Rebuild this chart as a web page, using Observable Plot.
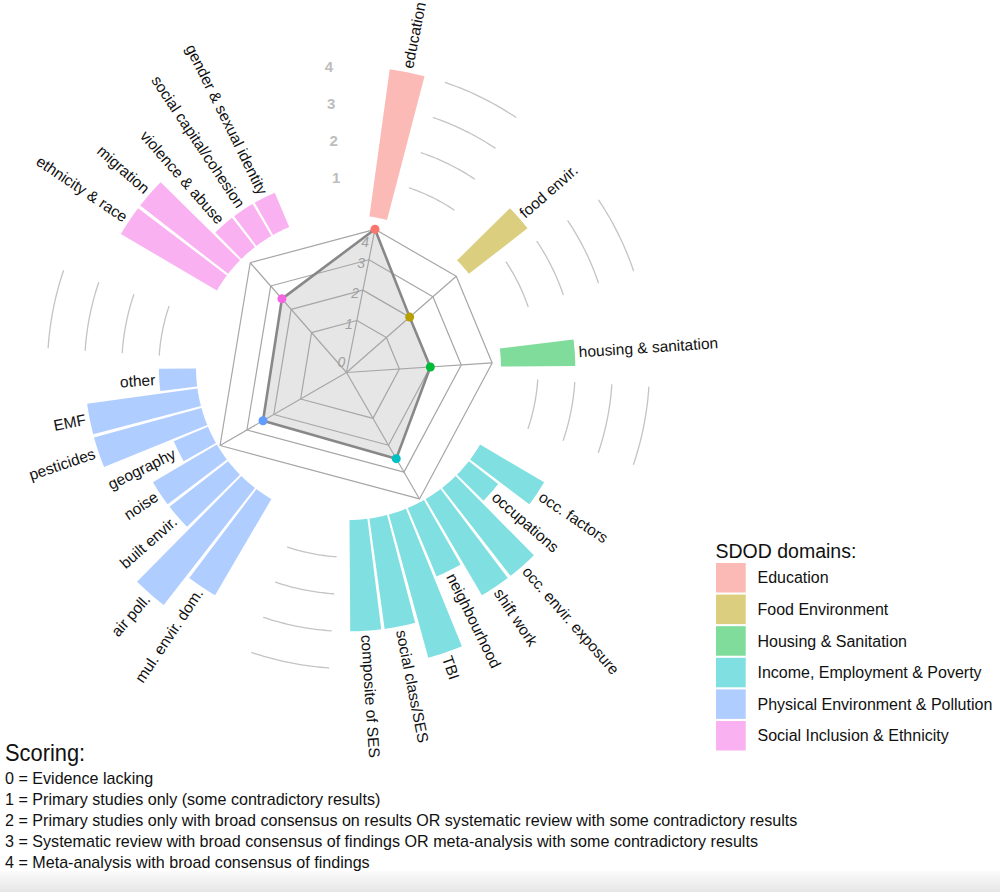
<!DOCTYPE html>
<html><head><meta charset="utf-8">
<script src="https://cdn.jsdelivr.net/npm/d3@7"></script>
<script src="https://cdn.jsdelivr.net/npm/@observablehq/plot@0.6"></script>
<style>
body{margin:0;background:#fff;}
#wrap{position:relative;width:1000px;height:892px;overflow:hidden;font-family:"Liberation Sans",Arial,sans-serif;}
#chart{position:absolute;left:0;top:0;}
.score{position:absolute;left:5px;white-space:nowrap;transform-origin:0 50%;color:#111;}
#band{position:absolute;left:0;top:871px;width:1000px;height:21px;background:linear-gradient(#fbfbfb,#e6e6e6);}
</style></head><body>
<div id="wrap"><div id="chart"></div><div id="scoring"></div><div id="band"></div></div>
<script>
const domains = ["Education","Food Environment","Housing & Sanitation","Income, Employment & Poverty","Physical Environment & Pollution","Social Inclusion & Ethnicity"];
const domainColors = ["#F8766D","#B79F00","#00BA38","#00BFC4","#619CFF","#F564E3"];
const factors = ["education","food envir.","housing & sanitation","occ. factors","occupations","occ. envir. exposure","shift work","neighbourhood","TBI","social class/SES","composite of SES","mul. envir. dom.","air poll.","built envir.","noise","geography","pesticides","EMF","other","ethnicity & race","migration","violence & abuse","social capital/cohesion","gender & sexual identity"];
const factorDomain = [0,1,2,3,3,3,3,3,3,3,3,4,4,4,4,4,4,4,4,5,5,5,5,5];
const scores = [4,2,2,2,1,3,3,2,4,3,3,3,4,2,2,1,3,3,1,3,3,1,1,1];
const radarScores = [4,2,2,2.5,2.4,2.45];
const scoreTicks = [0,1,2,3,4];
const legendTitle = "SDOD domains:";
const scoringTitle = "Scoring:";
const scoringLines = [
  "0 = Evidence lacking",
  "1 = Primary studies only (some contradictory results)",
  "2 = Primary studies only with broad consensus on results OR systematic review with some contradictory results",
  "3 = Systematic review with broad consensus of findings OR meta-analysis with some contradictory results",
  "4 = Meta-analysis with broad consensus of findings"
];

const W = 1000, H = 868;
const CX = 348, CY = 367;     // circular bar centre
const RX = 346, RY = 372;     // radar centre
const GAP = 4;
const nSlots = factors.length + GAP * domains.length;
const step = 360 / nSlots;
const slotOf = i => i + GAP * factorDomain[i];
const angleOf = s => (s + 1.5) * step;
const rBar = d3.scaleLinear().domain([0, 4]).range([152.5, 301]);
const rRad = d3.scaleLinear().domain([0, 4]).range([22, 146]);
const tickInset = [13, 5, 5, 5, 15];
const rad = a => a * Math.PI / 180;
const px = (ox, r, a) => ox + r * Math.sin(rad(a));
const py = (oy, r, a) => oy - r * Math.cos(rad(a));

// bars as annular sectors
const barPts = [];
factors.forEach((f, i) => {
  const a = angleOf(slotOf(i)), hw = step * 0.45, n = 8;
  const dom = domains[factorDomain[i]];
  const r0 = rBar(0), r1 = rBar(scores[i]);
  for (let k = 0; k <= n; k++) { const t = a - hw + 2 * hw * k / n; barPts.push({id: i, domain: dom, x: px(CX, r1, t), y: py(CY, r1, t)}); }
  for (let k = n; k >= 0; k--) { const t = a - hw + 2 * hw * k / n; barPts.push({id: i, domain: dom, x: px(CX, r0, t), y: py(CY, r0, t)}); }
});

// bar labels
const labels = factors.map((f, i) => {
  const a = angleOf(slotOf(i)), r = rBar(scores[i]) + 4;
  const right = a < 180;
  return {text: f, x: px(CX, r, a), y: py(CY, r, a), rot: right ? a - 90 : a + 90, right};
});

// domain centre angles
const domAngle = domains.map((d, j) => d3.mean(factors.map((f, i) => i).filter(i => factorDomain[i] === j), i => angleOf(slotOf(i))));

// grey arcs in the gaps
const arcPts = [];
domains.slice(0, -1).forEach((d, j) => {
  const last = d3.max(factors.map((f, i) => i).filter(i => factorDomain[i] === j), slotOf);
  const a0 = angleOf(last + 1), a1 = angleOf(last + 3);
  scoreTicks.slice(1).forEach(v => {
    for (let k = 0; k <= 20; k++) { const t = a0 + (a1 - a0) * k / 20; arcPts.push({g: j + "-" + v, x: px(CX, rBar(v), t), y: py(CY, rBar(v), t)}); }
  });
});
const barTickLabels = scoreTicks.slice(1).map(v => ({text: String(v), x: px(CX, rBar(v), angleOf(nSlots - 2)), y: py(CY, rBar(v), angleOf(nSlots - 2))}));

// radar grid
const ringPts = [];
scoreTicks.slice(1).forEach(v => domAngle.forEach(a => ringPts.push({v, x: px(RX, rRad(v), a), y: py(RY, rRad(v), a)})));
const spokes = domAngle.map(a => ({x1: RX, y1: RY, x2: px(RX, rRad(4), a), y2: py(RY, rRad(4), a)}));
const radarPts = domains.map((d, j) => ({domain: d, x: px(RX, rRad(radarScores[j]), domAngle[j]), y: py(RY, rRad(radarScores[j]), domAngle[j])}));
const ea = domAngle[0];
const radarTickLabels = scoreTicks.map((v, k) => {
  const al = rRad(v) - tickInset[k];
  return {text: String(v), x: px(RX, al, ea) + 7 * Math.sin(rad(ea - 90)), y: py(RY, al, ea) - 7 * Math.cos(rad(ea - 90))};
});

// legend rows
const legendRows = domains.map((d, j) => ({domain: d, x1: 716, x2: 745.7, y1: 563 + j * 31.6, y2: 592.5 + j * 31.6}));

const plot = Plot.plot({
  width: W, height: H, margin: 0,
  x: {domain: [0, W], range: [0, W], axis: null},
  y: {domain: [0, H], range: [0, H], axis: null},
  color: {domain: domains, range: domainColors},
  style: {fontFamily: "'Liberation Sans', Arial, sans-serif", background: "white"},
  marks: [
    Plot.line(arcPts, {x: "x", y: "y", z: "g", stroke: "#c4c4c4", strokeWidth: 1.3}),
    Plot.line(barPts, {x: "x", y: "y", z: "id", fill: "domain", fillOpacity: 0.5, stroke: "none", curve: "linear-closed"}),
    Plot.line(radarPts, {x: "x", y: "y", fill: "#dcdcdc", fillOpacity: 0.7, stroke: "none", curve: "linear-closed"}),
    Plot.line(ringPts, {x: "x", y: "y", z: "v", stroke: "#a6a6a6", strokeWidth: 1.2, curve: "linear-closed"}),
    Plot.link(spokes, {x1: "x1", y1: "y1", x2: "x2", y2: "y2", stroke: "#a6a6a6", strokeWidth: 1.2}),
    Plot.line(radarPts, {x: "x", y: "y", stroke: "#888", strokeWidth: 2.6, curve: "linear-closed"}),
    Plot.dot(radarPts, {x: "x", y: "y", fill: "domain", r: 4.5}),
    Plot.text(radarTickLabels, {x: "x", y: "y", text: "text", fill: "#a0a0a0", fontSize: 14, fontStyle: "italic"}),
    Plot.text(barTickLabels, {x: "x", y: "y", text: "text", fill: "#bdbdbd", fontSize: 15, fontWeight: "bold"}),
    Plot.text(labels.filter(d => d.right), {x: "x", y: "y", text: "text", rotate: "rot", textAnchor: "start", fontSize: 15.5, fill: "#111"}),
    Plot.text(labels.filter(d => !d.right), {x: "x", y: "y", text: "text", rotate: "rot", textAnchor: "end", fontSize: 15.5, fill: "#111"}),
    Plot.text([legendTitle], {x: 715, y: 551, text: d => d, textAnchor: "start", fontSize: 19.5, fill: "#111"}),
    Plot.rect(legendRows, {x1: "x1", x2: "x2", y1: "y1", y2: "y2", fill: "domain", fillOpacity: 0.5}),
    Plot.text(legendRows, {x: d => 757, y: d => (d.y1 + d.y2) / 2, text: "domain", textAnchor: "start", fontSize: 16, fill: "#111"})
  ]
});
document.getElementById("chart").appendChild(plot);

const sc = document.getElementById("scoring");
const t = document.createElement("div");
t.className = "score"; t.textContent = scoringTitle;
t.style.top = "740px"; t.style.fontSize = "24px"; t.style.lineHeight = "26px"; t.style.transform = "scaleX(0.91)";
sc.appendChild(t);
scoringLines.forEach((s, i) => {
  const d = document.createElement("div");
  d.className = "score"; d.textContent = s;
  d.style.top = (767.5 + i * 21) + "px"; d.style.fontSize = "17px"; d.style.lineHeight = "21px"; d.style.transform = "scaleX(0.947)";
  sc.appendChild(d);
});
</script>
</body></html>
